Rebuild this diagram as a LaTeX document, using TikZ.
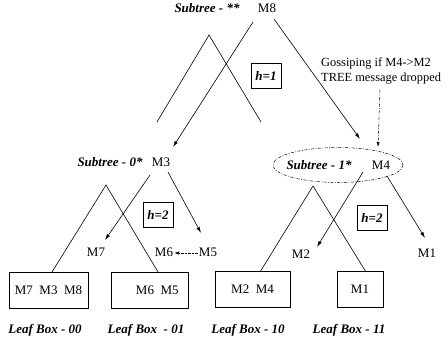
\documentclass[tikz,border=0pt]{standalone}
\usepackage{fontspec}
\setmainfont{Liberation Serif}
\usetikzlibrary{arrows.meta}
\begin{document}
\begin{tikzpicture}[x=1pt,y=-1pt,
  every node/.style={font=\fontsize{13}{15}\selectfont, inner sep=0pt},
  lbl/.style={font=\fontsize{13}{15}\selectfont\bfseries\itshape},
  hbox/.style={draw, line width=0.7pt, minimum width=30pt, minimum height=25pt, font=\fontsize{13}{15}\selectfont\bfseries\itshape},
  leaf/.style={draw, line width=0.6pt, minimum height=36pt},
  tri/.style={line width=0.6pt},
  arr/.style={line width=0.6pt, -{Latex[length=6pt,width=3.5pt]}},
  dd/.style={line width=0.5pt, dash pattern=on 3pt off 1.5pt on 0.8pt off 1.5pt}]
\useasboundingbox (0,0) rectangle (446,347);

% root
\node[lbl] (st) at (207,8) {Subtree - **};
\node (m8) at (267,8) {M8};
\node[hbox] (h1) at (266,76) {h=1};

% left subtree head
\node[lbl] (s0) at (110,162) {Subtree - 0*};
\node (m3) at (161,162) {M3};
\node[hbox] (h2a) at (158,215) {h=2};

% right subtree head
\node[lbl] (s1) at (319,165) {Subtree - 1*};
\node (m4) at (381,165) {M4};
\node[hbox] (h2b) at (372,218) {h=2};
\draw[dd] (338,165) ellipse [x radius=65, y radius=17.5];
\coordinate (ell) at (378,147);

% gossip note
\node[anchor=west, align=left, font=\fontsize{12.4}{15}\selectfont] (gos) at (321,71) {Gossiping if M4->M2\\TREE message dropped};
\coordinate (gs) at (380,90);
\draw[dd, -{Latex[length=5pt,width=3pt]}] (gs) -- (ell);

% triangles
\draw[tri] (157,122) -- (209,35) -- (261,122);
\draw[tri] (52,272) -- (106,185) -- (158,272);
\draw[tri] (260,272) -- (313,186) -- (366,272);

% forwarding arrows from M8
\coordinate (m8l) at (253,22);
\coordinate (m8r) at (274,19);
\coordinate (t3) at (173,147);
\coordinate (t4) at (360,139);
\draw[arr] (m8l) -- (t3);
\draw[arr] (m8r) -- (t4);

% second level labels
\node (m7) at (96,252) {M7};
\node (m6) at (164,252) {M6};
\node (m5) at (208,252) {M5};
\node (m2) at (301,254) {M2};
\node (m1) at (427,253) {M1};

% arrows from M3
\coordinate (m3l) at (150,175);
\coordinate (m3r) at (168,172);
\coordinate (t7) at (105,240);
\coordinate (t5) at (201,233);
\draw[arr] (m3l) -- (t7);
\draw[arr] (m3r) -- (t5);
\draw[line width=0.6pt, dash pattern=on 2.5pt off 1pt, -{Latex[length=5pt,width=3.5pt]}] ([xshift=-1pt,yshift=-1pt]m5.west) -- ([xshift=1pt,yshift=-1pt]m6.east);

% arrows from M4
\coordinate (m4l) at (363,172);
\coordinate (m4r) at (387,176);
\coordinate (t2) at (317,247);
\coordinate (t1) at (425,238);
\draw[arr] (m4l) -- (t2);
\draw[arr] (m4r) -- (t1);

% leaf boxes
\node[leaf, minimum width=79pt] (b00) at (48.5,290) {M7\hspace{0.5em}M3\hspace{0.5em}M8};
\node[leaf, minimum width=77pt] (b01) at (149.5,290) {\hspace{1.2em}M6\hspace{0.5em}M5};
\node[leaf, minimum width=75pt] (b10) at (252.5,289.5) {M2\hspace{0.5em}M4};
\node[leaf, minimum width=46pt] (b11) at (360,289.5) {M1};

\node[lbl] (l00) at (45,330) {Leaf Box - 00};
\node[lbl] (l01) at (146,330) {Leaf Box\ \ - 01};
\node[lbl] (l10) at (248,330) {Leaf Box - 10};
\node[lbl] (l11) at (349,330) {Leaf Box - 11};
\end{tikzpicture}
\end{document}
